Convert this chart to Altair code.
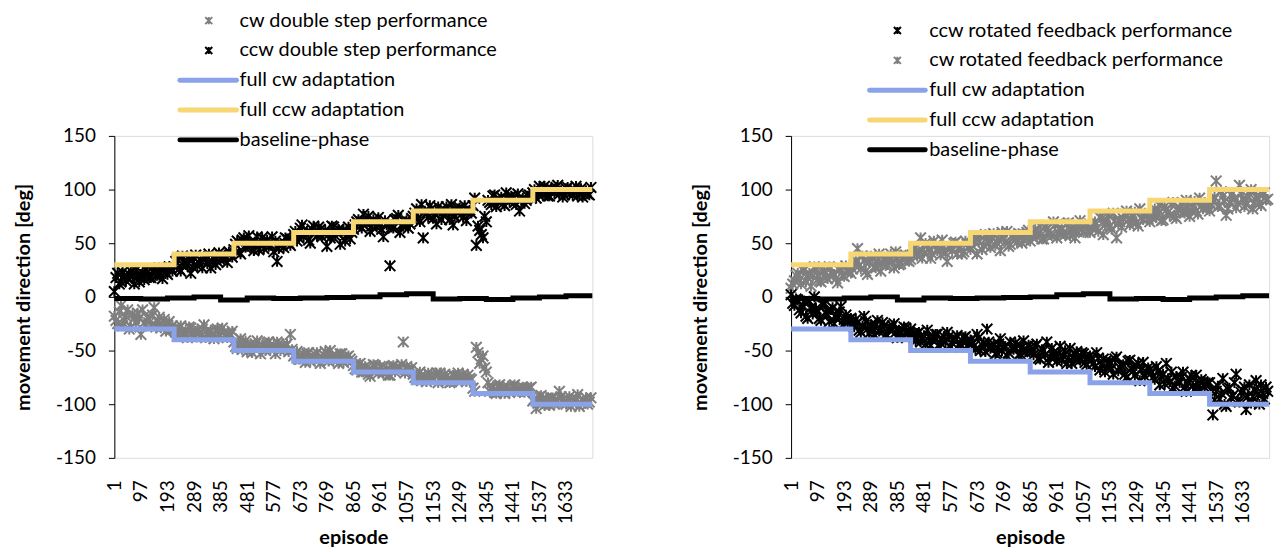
import altair as alt
import pandas as pd

# ---------------- data ----------------
N_EPISODES = 1728
SAMPLE_STEP = 12
episodes_a = list(range(1, N_EPISODES + 1, SAMPLE_STEP))   # 144 sampled episodes
episodes_b = list(range(7, N_EPISODES + 1, SAMPLE_STEP))   # 144 more, in between

x_tick_values = [1, 97, 193, 289, 385, 481, 577, 673, 769, 865, 961, 1057,
                 1153, 1249, 1345, 1441, 1537, 1633]
y_tick_values = [-150, -100, -50, 0, 50, 100, 150]

block_starts = [1, 217, 433, 649, 865, 1081, 1297, 1513]
cw_levels = [-30, -40, -50, -60, -70, -80, -90, -100]
ccw_levels = [30, 40, 50, 60, 70, 80, 90, 100]

baseline_starts = [1, 97, 193, 289, 385, 481, 577, 673, 769, 865, 961, 1057,
                   1153, 1249, 1345, 1441, 1537, 1633]
baseline_values = [-1.5, -2, -1, 0, -3, -1, -1.5, -1, -0.5, 0, 2, 3,
                   -2, -1.5, -2.5, -1, 0, 1]

# left panel: double step
left_ccw_perf_a = [
    5, 22, 14, 20, 17, 24, 12, 19, 21, 16, 23, 18, 25, 20, 22, 26, 21, 27,
    28, 35, 24, 33, 30, 22, 36, 29, 34, 38, 31, 27, 37, 33, 39, 35, 32, 40,
    44, 52, 40, 55, 47, 51, 43, 56, 49, 45, 53, 48, 42, 33, 50, 46, 54, 48,
    58, 52, 64, 56, 61, 50, 66, 57, 63, 59, 47, 55, 65, 60, 49, 62, 58, 54,
    63, 70, 66, 77, 68, 61, 72, 65, 69, 56, 67, 29, 64, 73, 60, 66, 71, 68,
    75, 82, 70, 55, 78, 85, 73, 68, 80, 76, 84, 72, 67, 79, 83, 74, 71, 81,
    85, 48, 62, 55, 70, 88, 94, 84, 91, 87, 97, 89, 93, 86, 80, 92, 90, 95,
    97, 92, 103, 95, 100, 94, 99, 102, 96, 93, 101, 98, 95, 103, 97, 93, 99, 95,
]
left_ccw_perf_b = [
    18, 12, 23, 15, 21, 19, 25, 14, 22, 26, 18, 24, 20, 27, 17, 23, 28, 24,
    33, 26, 38, 30, 35, 28, 39, 32, 27, 36, 40, 33, 30, 41, 36, 38, 42, 37,
    49, 42, 53, 46, 57, 50, 48, 44, 55, 51, 47, 56, 52, 45, 49, 55, 50, 53,
    61, 55, 67, 59, 53, 63, 60, 65, 56, 62, 58, 66, 57, 63, 61, 52, 65, 60,
    67, 72, 64, 70, 75, 66, 69, 74, 63, 71, 68, 65, 72, 76, 67, 70, 64, 73,
    78, 73, 86, 80, 74, 82, 77, 84, 72, 81, 79, 86, 75, 82, 77, 85, 80, 78,
    92, 66, 58, 75, 90, 86, 95, 89, 93, 85, 91, 94, 88, 96, 90, 87, 94, 92,
    100, 96, 98, 103, 94, 101, 97, 104, 99, 95, 102, 97, 100, 94, 101, 98, 96, 102,
]
left_cw_perf_a = [
    -18, -25, -8, -22, -12, -28, -20, -15, -35, -24, -19, -27, -10, -23, -29, -21, -26, -31,
    -30, -36, -27, -33, -38, -29, -35, -31, -37, -26, -34, -32, -39, -30, -36, -33, -38, -35,
    -42, -48, -39, -45, -51, -44, -47, -41, -53, -46, -43, -49, -45, -42, -50, -47, -44, -35,
    -55, -51, -58, -54, -53, -60, -56, -52, -62, -54, -57, -50, -59, -55, -53, -61, -56, -58,
    -64, -68, -62, -70, -66, -74, -63, -69, -65, -71, -67, -73, -64, -68, -66, -42, -65, -69,
    -72, -77, -70, -75, -79, -73, -76, -71, -71, -78, -74, -80, -73, -77, -75, -72, -79, -76,
    -85, -47, -62, -55, -70, -88, -84, -90, -82, -87, -85, -89, -83, -86, -88, -84, -87, -85,
    -97, -104, -93, -99, -95, -101, -94, -98, -88, -96, -100, -93, -99, -95, -102, -97, -94, -98,
]
left_cw_perf_b = [
    -22, -14, -27, -18, -30, -16, -24, -20, -12, -26, -21, -17, -28, -19, -25, -32, -23, -27,
    -33, -29, -35, -31, -28, -37, -32, -34, -30, -38, -33, -36, -31, -35, -29, -37, -34, -32,
    -46, -43, -49, -41, -47, -52, -44, -48, -45, -50, -42, -47, -53, -44, -48, -46, -51, -49,
    -53, -58, -55, -61, -52, -57, -54, -59, -56, -51, -60, -55, -57, -62, -53, -58, -55, -60,
    -67, -63, -70, -65, -72, -68, -64, -71, -66, -69, -73, -65, -70, -67, -63, -71, -68, -66,
    -75, -72, -78, -74, -71, -77, -73, -80, -75, -72, -76, -79, -74, -71, -78, -75, -73, -77,
    -88, -52, -58, -66, -80, -85, -89, -83, -86, -90, -84, -87, -82, -88, -85, -89, -86, -84,
    -95, -99, -92, -101, -96, -94, -100, -97, -93, -98, -95, -102, -96, -91, -99, -97, -100, -94,
]

# right panel: rotated feedback
right_ccw_perf_a = [
    2, -8, -3, -15, -5, -20, -10, 0, -14, -22, -7, -17, -12, -25, -18, -9, -21, -24,
    -20, -28, -24, -33, -18, -30, -26, -35, -22, -31, -27, -36, -29, -25, -38, -32, -28, -34,
    -30, -38, -34, -42, -36, -31, -45, -39, -35, -43, -37, -33, -47, -40, -36, -44, -38, -41,
    -40, -46, -35, -50, -43, -30, -48, -44, -52, -39, -47, -55, -42, -49, -45, -53, -41, -50,
    -47, -54, -44, -58, -50, -42, -56, -52, -60, -46, -55, -62, -48, -57, -51, -59, -53, -63,
    -55, -62, -52, -68, -58, -65, -60, -72, -56, -66, -63, -75, -59, -69, -64, -78, -61, -70,
    -68, -75, -65, -82, -72, -62, -79, -85, -74, -80, -70, -88, -77, -83, -73, -86, -79, -82,
    -80, -110, -88, -95, -76, -102, -85, -92, -72, -98, -87, -105, -82, -93, -78, -100, -90, -84,
]
right_ccw_perf_b = [
    -6, -2, -12, -9, -18, -4, -16, -11, -20, -7, -15, -23, -10, -19, -14, -26, -17, -21,
    -25, -21, -31, -27, -23, -34, -29, -26, -32, -24, -35, -30, -27, -33, -31, -36, -29, -33,
    -35, -41, -33, -39, -44, -37, -40, -35, -46, -39, -42, -37, -43, -39, -45, -41, -37, -44,
    -43, -49, -38, -45, -51, -42, -47, -53, -44, -50, -46, -52, -48, -43, -54, -47, -51, -45,
    -51, -46, -57, -49, -54, -61, -48, -56, -53, -59, -50, -57, -62, -54, -58, -52, -61, -56,
    -59, -65, -57, -63, -70, -61, -67, -58, -69, -64, -72, -60, -67, -73, -62, -68, -74, -66,
    -71, -77, -69, -74, -81, -76, -70, -83, -78, -75, -84, -80, -73, -86, -81, -77, -84, -80,
    -87, -96, -83, -90, -100, -86, -94, -80, -97, -89, -84, -93, -99, -86, -91, -82, -95, -88,
]
right_cw_perf_a = [
    8, 15, 22, 12, 25, 18, 10, 28, 20, 14, 24, 17, 27, 21, 13, 26, 19, 23,
    22, 30, 45, 26, 34, 21, 38, 28, 33, 24, 36, 30, 40, 27, 35, 31, 38, 34,
    35, 44, 38, 55, 41, 48, 36, 52, 43, 39, 47, 33, 45, 50, 40, 46, 42, 49,
    44, 52, 40, 57, 48, 55, 46, 59, 50, 43, 54, 61, 49, 56, 51, 58, 53, 60,
    52, 60, 56, 66, 54, 63, 58, 70, 55, 62, 59, 68, 57, 65, 61, 71, 60, 66,
    60, 68, 64, 74, 58, 71, 66, 78, 55, 70, 73, 80, 67, 75, 69, 82, 72, 77,
    70, 78, 74, 85, 72, 81, 76, 88, 73, 83, 79, 90, 75, 84, 80, 92, 82, 86,
    80, 90, 108, 85, 94, 76, 88, 97, 83, 104, 91, 86, 96, 82, 93, 87, 95, 90,
]
right_cw_perf_b = [
    12, 20, 16, 25, 14, 22, 19, 26, 15, 23, 18, 28, 21, 17, 25, 20, 29, 24,
    26, 34, 29, 38, 24, 32, 36, 27, 40, 31, 29, 37, 33, 42, 30, 36, 39, 33,
    39, 46, 42, 36, 50, 44, 40, 48, 45, 53, 41, 47, 43, 51, 46, 40, 52, 47,
    48, 55, 51, 44, 58, 50, 56, 48, 53, 60, 51, 47, 57, 53, 59, 50, 55, 62,
    56, 63, 59, 54, 65, 61, 57, 67, 60, 64, 58, 69, 62, 55, 66, 63, 68, 62,
    64, 70, 61, 73, 67, 76, 63, 71, 68, 65, 77, 72, 70, 79, 66, 74, 78, 73,
    74, 82, 77, 71, 84, 79, 86, 75, 81, 87, 78, 83, 80, 89, 77, 85, 88, 83,
    86, 93, 84, 98, 89, 82, 95, 91, 87, 96, 84, 93, 100, 88, 92, 85, 97, 91,
]

left_labels = ["cw double step performance", "ccw double step performance",
               "full cw adaptation", "full ccw adaptation", "baseline-phase"]
right_labels = ["ccw rotated feedback performance", "cw rotated feedback performance",
                "full cw adaptation", "full ccw adaptation", "baseline-phase"]
legend_kinds = ["marker", "marker", "line", "line", "line"]

# ---------------- styles ----------------
FONT = "Lato"
GRAY = "#7f7f7f"
BLACK = "#000000"
BLUE = "#8aa2e8"
YELLOW = "#f7d774"
STAR = "M-1,-1L1,1M-1,1L1,-1M0,-1L0,1"
PLOT_W = 481
PLOT_H = 324


def step_df(starts, values):
    return pd.DataFrame({"episode": starts + [N_EPISODES], "deg": values + [values[-1]]})


def perf_df(vals_a, vals_b):
    return pd.DataFrame({"episode": episodes_a + episodes_b, "deg": vals_a + vals_b})


def panel(perf_top, perf_top_color, perf_bottom, perf_bottom_color, labels, label_colors,
          legend_y, legend_line_x, legend_marker_x, legend_text_x):
    x_enc = alt.X("episode:Q",
                  scale=alt.Scale(domain=[1, N_EPISODES], nice=False, zero=False),
                  axis=alt.Axis(values=x_tick_values, labelAngle=-90, labelExpr="'' + datum.value",
                                title="episode", grid=False, domain=False, ticks=False,
                                labelPadding=22, labelFont=FONT, labelFontSize=19,
                                labelColor="black", titleFont=FONT, titleFontSize=20,
                                titleFontWeight="bold", titleColor="black", titlePadding=4,
                                labelOverlap=False, labelFlush=False))
    y_enc = alt.Y("deg:Q",
                  scale=alt.Scale(domain=[-150, 150], nice=False, zero=False),
                  axis=alt.Axis(values=y_tick_values, labelExpr="'' + datum.value",
                                title="movement direction [deg]", grid=False,
                                domainColor="black", tickColor="black", tickSize=6,
                                labelPadding=13, labelFont=FONT, labelFontSize=19,
                                labelColor="black", titleFont=FONT, titleFontSize=20,
                                titleFontWeight="bold", titleColor="black", titlePadding=22))

    pts_top = alt.Chart(perf_df(*perf_top)).mark_point(
        shape=STAR, filled=False, size=115, strokeWidth=2, opacity=1,
        color=perf_top_color).encode(x=x_enc, y=y_enc)
    pts_bot = alt.Chart(perf_df(*perf_bottom)).mark_point(
        shape=STAR, filled=False, size=115, strokeWidth=2, opacity=1,
        color=perf_bottom_color).encode(x=x_enc, y=y_enc)
    cw_line = alt.Chart(step_df(block_starts, cw_levels)).mark_line(
        interpolate="step-after", strokeWidth=5, color=BLUE).encode(x=x_enc, y=y_enc)
    ccw_line = alt.Chart(step_df(block_starts, ccw_levels)).mark_line(
        interpolate="step-after", strokeWidth=5, color=YELLOW).encode(x=x_enc, y=y_enc)
    base_line = alt.Chart(step_df(baseline_starts, baseline_values)).mark_line(
        interpolate="step-after", strokeWidth=5, color=BLACK).encode(x=x_enc, y=y_enc)

    main = alt.layer(pts_top, pts_bot, cw_line, ccw_line, base_line)

    leg_df = pd.DataFrame({"label": labels, "kind": legend_kinds})
    ly = alt.Y("label:N", axis=None,
               scale=alt.Scale(type="point", domain=labels, range=legend_y, padding=0))
    lc = alt.Color("label:N", legend=None, scale=alt.Scale(domain=labels, range=label_colors))
    leg_text = alt.Chart(leg_df).mark_text(align="left", baseline="middle", font=FONT,
                                           fontSize=20, color="black").encode(
        x=alt.value(legend_text_x), y=ly, text="label:N")
    leg_pts = alt.Chart(leg_df).transform_filter("datum.kind == 'marker'").mark_point(
        shape=STAR, filled=False, size=50, strokeWidth=2, opacity=1).encode(
        x=alt.value(legend_marker_x), y=ly, color=lc)
    leg_lines = alt.Chart(leg_df).transform_filter("datum.kind == 'line'").mark_rule(
        strokeWidth=5, strokeCap="round").encode(
        x=alt.value(legend_line_x[0]), x2=alt.value(legend_line_x[1]), y=ly, color=lc)
    legend = alt.layer(leg_text, leg_pts, leg_lines)

    return alt.layer(main, legend).resolve_scale(y="independent", color="independent").properties(
        width=PLOT_W, height=PLOT_H)


left = panel((left_ccw_perf_a, left_ccw_perf_b), BLACK, (left_cw_perf_a, left_cw_perf_b), GRAY,
             left_labels, [GRAY, BLACK, BLUE, YELLOW, BLACK],
             legend_y=[-116, 4], legend_line_x=(66, 123), legend_marker_x=95, legend_text_x=126)
right = panel((right_cw_perf_a, right_cw_perf_b), GRAY, (right_ccw_perf_a, right_ccw_perf_b), BLACK,
              right_labels, [BLACK, GRAY, BLUE, YELLOW, BLACK],
              legend_y=[-106, 14], legend_line_x=(79, 135), legend_marker_x=107, legend_text_x=139)

chart = alt.hconcat(left, right, spacing=200, bounds="flush").resolve_scale(
    color="independent", y="independent", x="independent"
).properties(
    padding={"left": 5, "top": 0, "right": 0, "bottom": 0}
).configure_view(stroke=None).configure(background="white")

chart.save("out.html", embed_options={"renderer": "svg", "actions": False})
